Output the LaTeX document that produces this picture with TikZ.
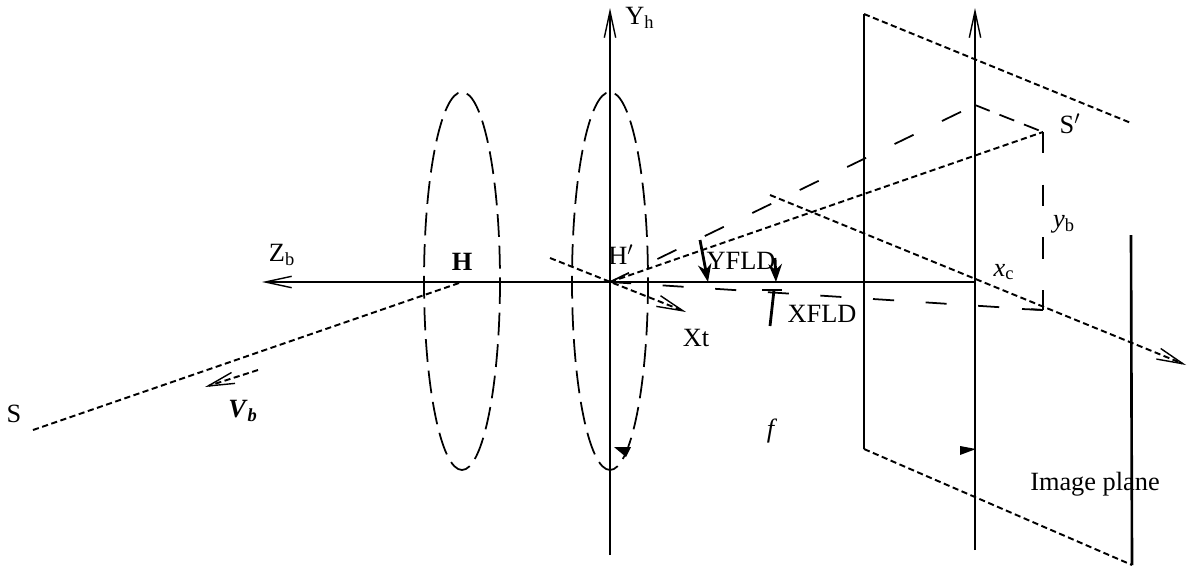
\documentclass[tikz,border=0pt]{standalone}
\usepackage{fontspec}
\setmainfont{Liberation Serif}
\usetikzlibrary{arrows.meta}

\tikzset{
  axis/.style={line width=1.5pt},
  rayline/.style={line width=1.1pt,dash pattern=on 3.5pt off 2pt},
  longline/.style={line width=1pt,dash pattern=on 12pt off 18pt},
  lensline/.style={line width=1pt,dash pattern=on 13pt off 5pt},
  openhead/.style={-{Straight Barb[length=15pt,width=6.5pt,line width=.8pt]}},
  label/.style={font=\fontsize{15}{18}\selectfont,inner sep=0pt}
}

\begin{document}
\begin{tikzpicture}[x=0.02cm,y=-0.02cm,>=Stealth]

    \useasboundingbox (0,0) rectangle (1200,579);

    % points
    \coordinate (zend) at (262,282);
    \coordinate (h) at (462,282);
    \coordinate (hp) at (610,282);
    \coordinate (xc) at (975,282);
    \coordinate (sstart) at (33,430);
    \coordinate (sp) at (1043,132);
    \coordinate (spfoot) at (1043,310);
    \coordinate (back) at (975,105);
    \coordinate (yhtop) at (610,8);
    \coordinate (yhbot) at (610,555);
    \coordinate (ctop) at (975,8);
    \coordinate (cbot) at (975,550);
    \coordinate (pa) at (864,14);
    \coordinate (pb) at (864,449);
    \coordinate (pc) at (1132,565);
    \coordinate (pd) at (1131,123);
    \coordinate (pe) at (1131,235);
    \coordinate (xtstart) at (550,258);
    \coordinate (xtend) at (686,312);
    \coordinate (ostart) at (770,195);
    \coordinate (oend) at (1186,365);
    \coordinate (vstart) at (258,370);
    \coordinate (vend) at (205,387);

    % lenses
    \draw [lensline] (462,281) ellipse [x radius=38,y radius=189];
    \draw [lensline] (610,281) ellipse [x radius=38,y radius=189];

    % axes
    \draw [axis,openhead] (h) -- (zend);
    \draw [axis] (h) -- (xc);
    \draw [axis,openhead] (yhbot) -- (yhtop);
    \draw [axis,openhead] (cbot) -- (ctop);

    % image plane
    \draw [axis] (pb) -- (pa);
    \draw [axis] (pe) -- (pc);
    \draw [rayline] (pa) -- (pd);
    \draw [rayline] (pb) -- (pc);

    % rays
    \draw [rayline] (sstart) -- (h);
    \draw [rayline] (hp) -- (sp);
    \draw [rayline,openhead] (xtstart) -- (xtend);
    \draw [rayline,openhead] (ostart) -- (oend);
    \draw [rayline,openhead] (vstart) -- (vend);

    % projections
    \draw [longline] (hp) -- (back);
    \draw [longline,dash pattern=on 9pt off 6pt] (back) -- (sp);
    \draw [longline] (sp) -- (spfoot);
    \draw [longline] (hp) -- (spfoot);
    \draw [line width=1pt] (1022,309) -- (spfoot);

    % field marks
    \coordinate (ya) at (700,240);
    \coordinate (yb) at (708,282);
    \coordinate (yc) at (775,258);
    \coordinate (yd) at (776,282);
    \coordinate (xa) at (774,290);
    \coordinate (xb) at (770,326);
    \draw [line width=1.6pt,->] (ya) -- (yb);
    \draw [line width=1.6pt,->] (yc) -- (yd);
    \draw [line width=1.6pt] (xa) -- (xb);
    \draw [line width=1pt] (762,290) -- (782,290);
    \fill (614,447) -- (631,447) -- (626,457) -- cycle;
    \fill (960,446) -- (976,449) -- (960,455) -- cycle;

    % labels
    \node [label] (labels) at (14,414) {S};
    \node [label] (labelv) at (243,411) {\textbf{\textit{V}}\textsubscript{\textbf{\textit{b}}}};
    \node [label] (labelz) at (282,255) {Z\textsubscript{b}};
    \node [label] (labelh) at (462,262) {\textbf{H}};
    \node [label] (labelhp) at (621,255) {H$'$};
    \node [label] (labely) at (640,18) {Y\textsubscript{h}};
    \node [label] (labelxt) at (696,338) {Xt};
    \node [label] (labelyfld) at (741,261) {YFLD};
    \node [label] (labelxfld) at (822,314) {XFLD};
    \node [label] (labelf) at (772,431) {\textit{f}};
    \node [label] (labelsp) at (1070,124) {S$'$};
    \node [label] (labelyb) at (1064,224) {\textit{y}\textsubscript{b}};
    \node [label] (labelxb) at (1004,272) {\textit{x}\textsubscript{c}};
    \node [label] (labelplane) at (1095,484) {Image plane};

\end{tikzpicture}
\end{document}
